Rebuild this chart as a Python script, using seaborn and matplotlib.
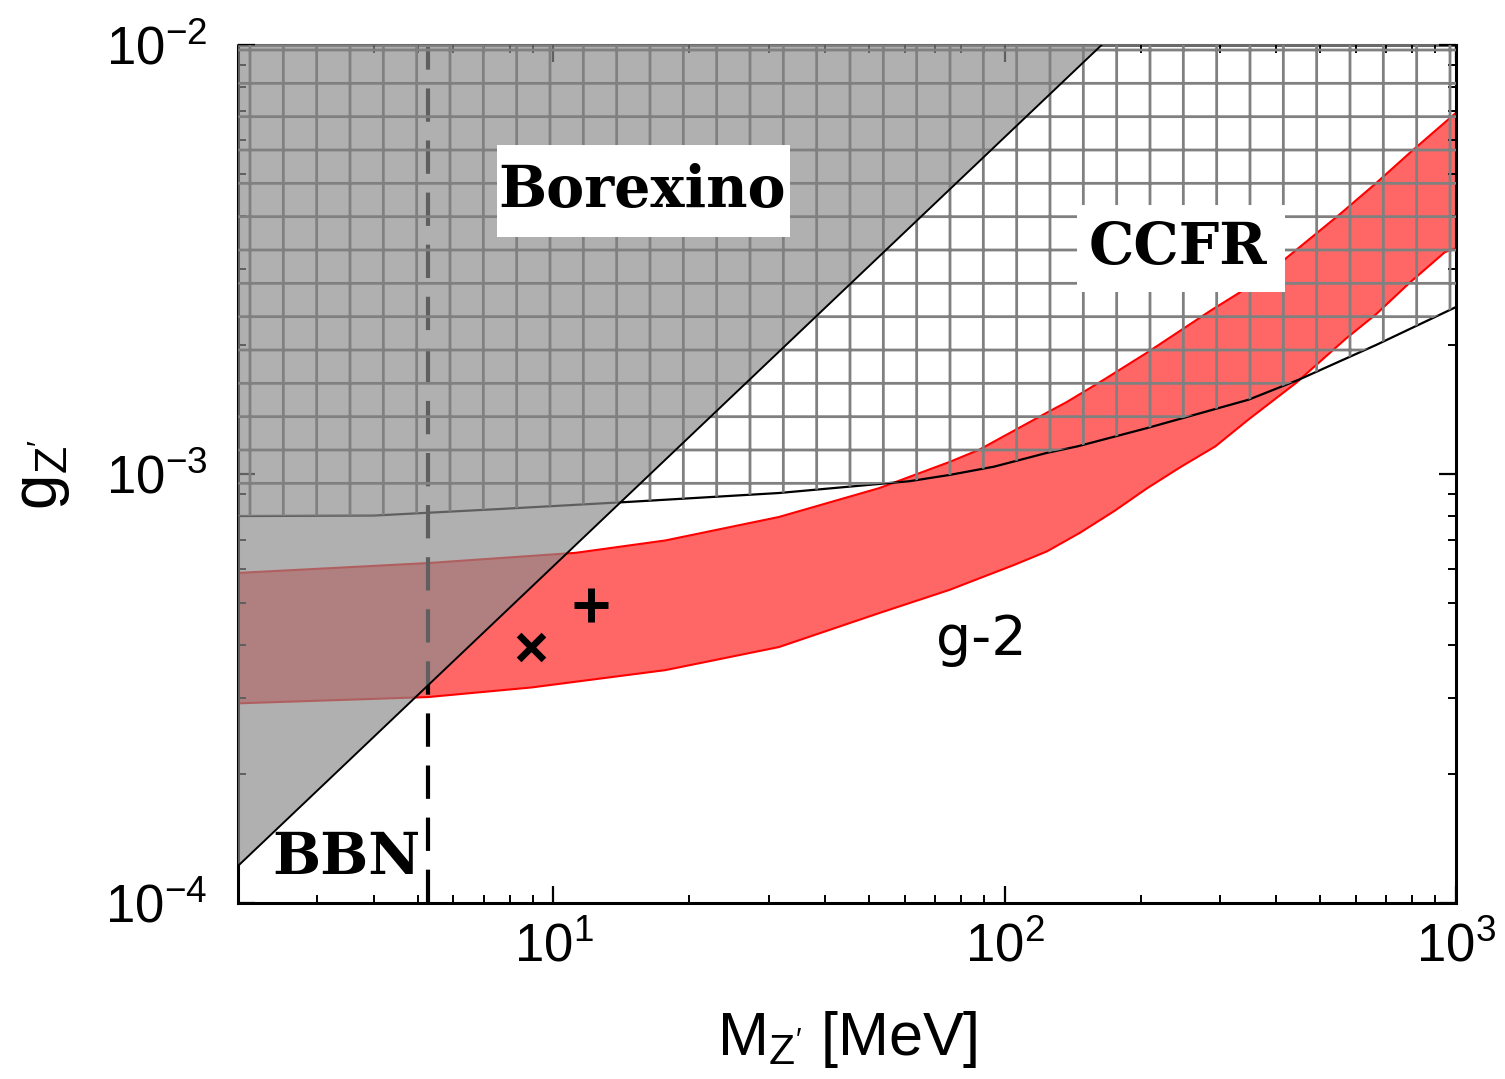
import matplotlib
matplotlib.use("Agg")
import matplotlib.pyplot as plt
from matplotlib.patches import Rectangle
import seaborn as sns

# ---------------- data ----------------
# Borexino boundary (straight line in log-log)
borexino_mass = [2.0, 1000.0]
borexino_g = [1.22e-4, 6.1e-2]

# CCFR boundary
ccfr_mass = [2.0, 4.0, 7.5, 14.7, 31.6, 61.5, 75.5, 94.6, 124.0, 145.0, 207.0, 347.0, 449.0, 666.0, 1000.0]
ccfr_g = [7.98e-4, 8.0e-4, 8.28e-4, 8.61e-4, 9.03e-4, 9.62e-4, 9.95e-4, 1.04e-3, 1.12e-3, 1.16e-3,
          1.28e-3, 1.49e-3, 1.66e-3, 2.0e-3, 2.45e-3]

# g-2 band
g2_upper_mass = [2.0, 5.27, 11.2, 17.7, 31.6, 52.7, 75.5, 87.9, 124.0, 137.0, 166.0, 207.0, 287.0,
                 330.0, 415.0, 551.0, 666.0, 789.0, 1000.0]
g2_upper_g = [5.88e-4, 6.2e-4, 6.55e-4, 7.0e-4, 7.94e-4, 9.27e-4, 1.067e-3, 1.14e-3, 1.39e-3, 1.47e-3,
              1.66e-3, 1.92e-3, 2.41e-3, 2.64e-3, 3.15e-3, 4.02e-3, 4.77e-3, 5.6e-3, 6.95e-3]
g2_lower_mass = [2.0, 5.27, 8.94, 17.7, 31.6, 52.7, 75.5, 89.3, 105.0, 124.0, 147.0, 175.0, 207.0,
                 246.0, 293.0, 347.0, 442.0, 571.0, 666.0, 789.0, 945.0, 1000.0]
g2_lower_g = [2.92e-4, 3.02e-4, 3.18e-4, 3.49e-4, 3.95e-4, 4.74e-4, 5.37e-4, 5.75e-4, 6.14e-4, 6.6e-4,
              7.3e-4, 8.2e-4, 9.27e-4, 1.04e-3, 1.16e-3, 1.34e-3, 1.63e-3, 2.07e-3, 2.36e-3, 2.79e-3,
              3.29e-3, 3.36e-3]

# BBN bound
bbn_mass = 5.27

# benchmark points
plus_mass = [12.1]
plus_g = [4.95e-4]
cross_mass = [8.94]
cross_g = [3.96e-4]

# axis ranges
x_range = [2.0, 1000.0]
y_range = [1e-4, 1e-2]

# ---------------- style ----------------
sns.set_theme(style="ticks")
plt.rcParams["font.family"] = ["Liberation Sans", "DejaVu Sans"]
plt.rcParams["mathtext.fontset"] = "custom"
plt.rcParams["mathtext.rm"] = "Liberation Sans"
plt.rcParams["mathtext.it"] = "Liberation Sans:italic"
plt.rcParams["mathtext.bf"] = "Liberation Sans:bold"
plt.rcParams["mathtext.default"] = "regular"
plt.rcParams["axes.unicode_minus"] = False
plt.rcParams["hatch.color"] = "#808080"
plt.rcParams["hatch.linewidth"] = 1.0
plt.rcParams["text.color"] = "black"
plt.rcParams["axes.labelcolor"] = "black"
plt.rcParams["xtick.color"] = "black"
plt.rcParams["ytick.color"] = "black"

W, H, DPI = 1505, 1079, 200
fig = plt.figure(figsize=(W / DPI, H / DPI), dpi=DPI)
ax = fig.add_axes([238 / W, 1 - 903 / H, (1456 - 238) / W, (903 - 45) / H])
ax.set_xscale("log")
ax.set_yscale("log")
ax.set_xlim(*x_range)
ax.set_ylim(*y_range)

# g-2 band
band_x = list(g2_upper_mass) + list(g2_lower_mass[::-1])
band_y = list(g2_upper_g) + list(g2_lower_g[::-1])
ax.fill(band_x, band_y, facecolor="#ff6666", edgecolor="none", zorder=1)
sns.lineplot(x=g2_upper_mass, y=g2_upper_g, color="#ff0000", lw=0.75, ax=ax, zorder=1.1, sort=False)
sns.lineplot(x=g2_lower_mass, y=g2_lower_g, color="#ff0000", lw=0.75, ax=ax, zorder=1.1, sort=False)

# CCFR boundary line
sns.lineplot(x=ccfr_mass, y=ccfr_g, color="black", lw=0.8, ax=ax, zorder=1.2, sort=False)

# BBN dashed line
ax.axvline(bbn_mass, color="black", lw=1.5, linestyle=(0, (8, 4.5)), zorder=1.3)

# Borexino excluded region (semi-transparent gray)
ax.fill_between(borexino_mass, borexino_g, y_range[1], facecolor="#8c8c8c", alpha=0.686,
                edgecolor="none", linewidth=0, zorder=2)

# CCFR excluded region (grid hatch)
ax.fill_between(ccfr_mass, ccfr_g, y_range[1], facecolor="none", edgecolor="#808080",
                hatch="+", linewidth=0, zorder=3)

# Borexino boundary line
sns.lineplot(x=borexino_mass, y=borexino_g, color="black", lw=0.7, ax=ax, zorder=4, sort=False)

# benchmark markers
sns.scatterplot(x=plus_mass, y=plus_g, marker="+", color="black", s=150, linewidth=2.5, ax=ax, zorder=5)
sns.scatterplot(x=cross_mass, y=cross_g, marker="x", color="black", s=80, linewidth=2.4, ax=ax, zorder=5)

# white label boxes (axes-fraction layout)
ax.add_patch(Rectangle((0.2126, 0.7762), 0.2406, 0.1072, transform=ax.transAxes,
                       facecolor="white", edgecolor="none", zorder=5.5))
ax.add_patch(Rectangle((0.6888, 0.7121), 0.1708, 0.1014, transform=ax.transAxes,
                       facecolor="white", edgecolor="none", zorder=5.5))

# labels
serif_bold = dict(family="DejaVu Serif", weight="bold", fontsize=20.5, ha="center", va="center",
                  zorder=6, color="black")
ax.text(15.7, 4.57e-3, "Borexino", **serif_bold)
ax.text(242, 3.37e-3, "CCFR", **serif_bold)
ax.text(3.47, 1.27e-4, "BBN", **serif_bold)
ax.text(88.9, 4.1e-4, "g-2", family="DejaVu Sans", fontsize=20, ha="center", va="center", zorder=6,
        color="black")

ax.set_xlabel(r"M$_{\mathregular{Z'}}$ [MeV]", fontsize=22, labelpad=13)
ax.set_ylabel(r"g$_{\mathregular{Z'}}$", fontsize=23, labelpad=12)

# ticks & spines
ax.tick_params(which="both", direction="in", top=True, right=True, colors="black")
ax.tick_params(which="major", length=6, width=0.8, labelsize=19)
ax.tick_params(axis="x", which="major", pad=7)
ax.tick_params(axis="y", which="major", pad=11)
ax.tick_params(which="minor", length=3, width=0.7)
ax.xaxis.set_zorder(1.5)
ax.yaxis.set_zorder(1.5)
for side in ["left", "right", "top", "bottom"]:
    ax.spines[side].set_linewidth(1.1)
    ax.spines[side].set_color("black")
ax.spines["top"].set_color("#6a6a6a")
ax.spines["left"].set_zorder(1.5)
ax.spines["top"].set_zorder(1.5)
if ax.get_legend() is not None:
    ax.get_legend().remove()

fig.savefig("out.png", dpi=DPI, facecolor="white")
